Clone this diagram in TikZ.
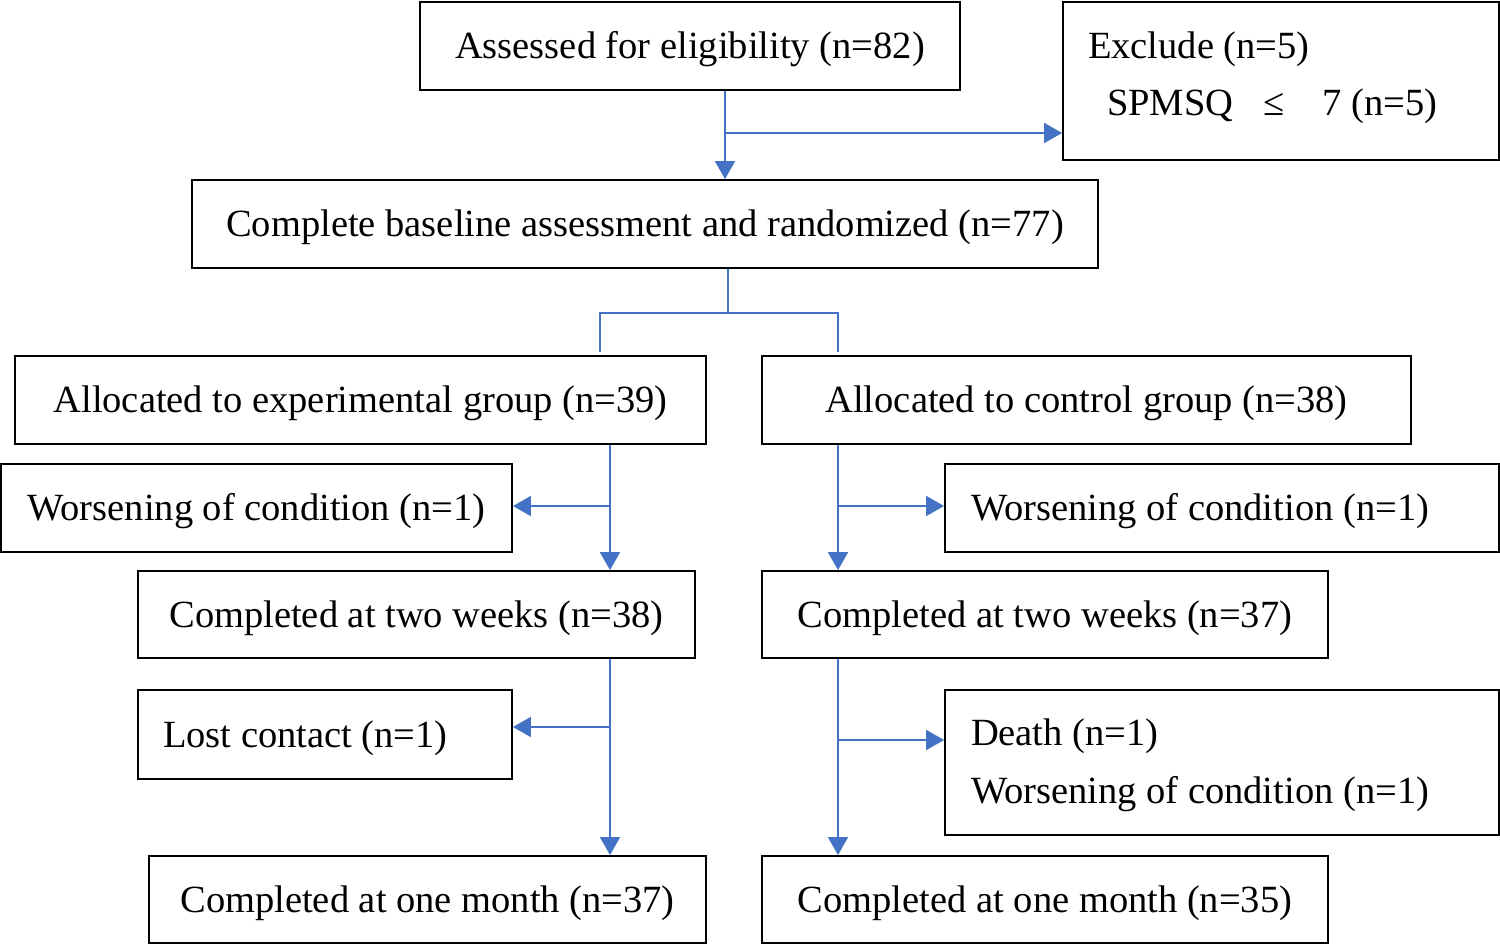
\documentclass[tikz,border=0pt]{standalone}
\usepackage{fontspec}
\setmainfont{Liberation Serif}
\usetikzlibrary{arrows.meta}
\definecolor{lnblue}{HTML}{4472C4}
\newcommand\fsz{\fontsize{38.5}{57.5}\selectfont}
\begin{document}
\begin{tikzpicture}[x=1pt,y=-1pt,
  box/.style={draw=black, line width=1.8pt, inner sep=0pt, font=\fsz, anchor=center},
  sbox/.style={box, text height=31pt, text depth=6pt},
  conn/.style={draw=lnblue, line width=1.8pt},
  arr/.style={conn, -{Triangle[length=18pt,width=20pt]}}]
\useasboundingbox (0,0) rectangle (1500,945);
% boxes
\node[sbox, minimum width=540pt, minimum height=88pt] (a) at (690,46) {Assessed for eligibility (n=82)};
\node[box, minimum width=436pt, minimum height=158pt, text width=386pt, inner xsep=25pt, align=flush left] (ex) at (1281,81)
  {Exclude (n=5)\\\hspace*{19pt}SPMSQ\hspace{30pt}≤\hspace{38pt}7 (n=5)\rule[-15pt]{0pt}{15pt}};
\node[sbox, minimum width=906pt, minimum height=88pt] (b) at (645,224) {Complete baseline assessment and randomized (n=77)};
\node[sbox, minimum width=691pt, minimum height=88pt] (c1) at (360.5,400) {Allocated to experimental group (n=39)};
\node[sbox, minimum width=649pt, minimum height=88pt] (c2) at (1086.5,400) {Allocated to control group (n=38)};
\node[sbox, minimum width=511pt, minimum height=88pt] (w1) at (256.5,508) {Worsening of condition (n=1)};
\node[sbox, minimum width=554pt, minimum height=88pt, text width=502pt, inner xsep=26pt, align=flush left] (w2) at (1222,508) {Worsening of condition (n=1)};
\node[sbox, minimum width=557pt, minimum height=87pt] (t1) at (416.5,614.5) {Completed at two weeks (n=38)};
\node[sbox, minimum width=566pt, minimum height=87pt] (t2) at (1045,614.5) {Completed at two weeks (n=37)};
\node[sbox, minimum width=374pt, minimum height=89pt, text width=324pt, inner xsep=25pt, align=flush left] (l1) at (325,734.5) {Lost contact (n=1)};
\node[box, minimum width=554pt, minimum height=145pt, text width=502pt, inner xsep=26pt, align=flush left] (d2) at (1222,762.5)
  {\rule{0pt}{32pt}Death (n=1)\\Worsening of condition (n=1)};
\node[sbox, minimum width=557pt, minimum height=87pt] (m1) at (427.5,899.5) {Completed at one month (n=37)};
\node[sbox, minimum width=566pt, minimum height=87pt] (m2) at (1045,899.5) {Completed at one month (n=35)};
% helper coordinates
\coordinate (xa) at (725,0);
\coordinate (ya) at (0,133);
\coordinate (xb) at (728,0);
\coordinate (ys) at (0,313);
\coordinate (ye) at (0,352);
\coordinate (xl) at (600,0);
\coordinate (xr) at (838,0);
\coordinate (xp) at (610,0);
\coordinate (yw) at (0,506);
\coordinate (yl) at (0,727);
\coordinate (yd) at (0,740);
% connectors
\draw[arr] (xa |- a.south) -- (xa |- b.north);
\draw[arr] (xa |- ya) -- (ex.west |- ya);
\draw[conn] (xb |- b.south) -- (xb |- ys);
\draw[conn] (xl |- ye) -- (xl |- ys) -- (xr |- ys) -- (xr |- ye);
\draw[arr] (xp |- c1.south) -- (xp |- t1.north);
\draw[arr] (xp |- yw) -- (w1.east |- yw);
\draw[arr] (xr |- c2.south) -- (xr |- t2.north);
\draw[arr] (xr |- yw) -- (w2.west |- yw);
\draw[arr] (xp |- t1.south) -- (xp |- m1.north);
\draw[arr] (xp |- yl) -- (l1.east |- yl);
\draw[arr] (xr |- t2.south) -- (xr |- m2.north);
\draw[arr] (xr |- yd) -- (d2.west |- yd);
\end{tikzpicture}
\end{document}
